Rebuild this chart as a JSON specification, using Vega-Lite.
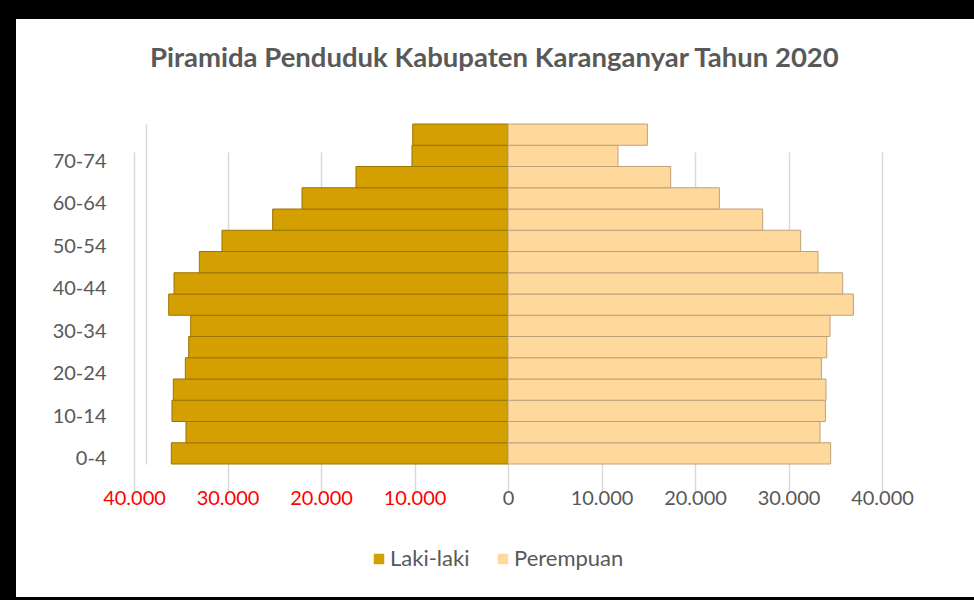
{
  "$schema": "https://vega.github.io/schema/vega-lite/v6.json",
  "width": 958,
  "height": 578,
  "autosize": {"type": "none"},
  "padding": {"left": 16, "top": 19, "right": 0, "bottom": 3},
  "background": "#000000",
  "config": {"view": {"fill": "#FFFFFF", "stroke": null}, "font": "Lato"},
  "title": {
    "text": "Piramida Penduduk Kabupaten Karanganyar Tahun 2020",
    "fontSize": 27.5,
    "fontWeight": "bold",
    "color": "#595959",
    "font": "Lato",
    "anchor": "start",
    "frame": "group",
    "dx": 134,
    "offset": -53
  },
  "data": {
    "values": [
      {"umur": "0-4", "laki_laki": 36010, "perempuan": 34510},
      {"umur": "5-9", "laki_laki": 34440, "perempuan": 33370},
      {"umur": "10-14", "laki_laki": 35940, "perempuan": 33950},
      {"umur": "15-19", "laki_laki": 35800, "perempuan": 34010},
      {"umur": "20-24", "laki_laki": 34510, "perempuan": 33520},
      {"umur": "25-29", "laki_laki": 34150, "perempuan": 34090},
      {"umur": "30-34", "laki_laki": 33940, "perempuan": 34440},
      {"umur": "35-39", "laki_laki": 36290, "perempuan": 36940},
      {"umur": "40-44", "laki_laki": 35720, "perempuan": 35800},
      {"umur": "45-49", "laki_laki": 33010, "perempuan": 33160},
      {"umur": "50-54", "laki_laki": 30590, "perempuan": 31300},
      {"umur": "55-59", "laki_laki": 25170, "perempuan": 27240},
      {"umur": "60-64", "laki_laki": 22030, "perempuan": 22610},
      {"umur": "65-69", "laki_laki": 16260, "perempuan": 17400},
      {"umur": "70-74", "laki_laki": 10270, "perempuan": 11760},
      {"umur": "75+", "laki_laki": 10190, "perempuan": 14910}
    ]
  },
  "encoding": {
    "y": {
      "field": "umur",
      "type": "nominal",
      "sort": null,
      "scale": {
        "domain": ["75+", "70-74", "65-69", "60-64", "55-59", "50-54", "45-49", "40-44", "35-39", "30-34", "25-29", "20-24", "15-19", "10-14", "5-9", "0-4"],
        "range": [105, 445],
        "paddingInner": 0,
        "paddingOuter": 0
      },
      "axis": {
        "orient": "left",
        "offset": -130,
        "title": null,
        "grid": false,
        "domain": true,
        "domainColor": "#D9D9D9",
        "domainWidth": 1.5,
        "ticks": false,
        "tickSize": 0,
        "labelPadding": 40,
        "labelOffset": 6,
        "labelFont": "Lato",
        "labelFontSize": 20,
        "labelColor": "#595959",
        "labelOverlap": false,
        "values": ["0-4", "10-14", "20-24", "30-34", "40-44", "50-54", "60-64", "70-74"]
      }
    }
  },
  "layer": [
    {
      "mark": {"type": "bar", "stroke": "#9C7500", "strokeWidth": 1},
      "encoding": {
        "x": {
          "field": "laki_laki",
          "type": "quantitative",
          "scale": {"domain": [0, 40000], "range": [118, 492], "reverse": true, "nice": false, "zero": true},
          "axis": {
            "orient": "bottom",
            "offset": -129,
            "title": null,
            "values": [10000, 20000, 30000, 40000],
            "labelExpr": "replace(format(datum.value, ','), ',', '.')",
            "labelColor": "#FF0000",
            "labelFont": "Lato",
            "labelFontSize": 20,
            "labelPadding": 20,
            "labelOverlap": false,
            "labelFlush": false,
            "labelBound": false,
            "domain": false,
            "ticks": false,
            "tickSize": 0,
            "grid": true,
            "gridColor": "#D9D9D9",
            "gridWidth": 1.5
          }
        },
        "color": {
          "datum": "Laki-laki",
          "type": "nominal",
          "scale": {"domain": ["Laki-laki", "Perempuan"], "range": ["#D49F00", "#FFD89C"]},
          "legend": {
            "orient": "none",
            "legendX": 352,
            "legendY": 529,
            "direction": "horizontal",
            "title": null,
            "symbolType": "square",
            "symbolSize": 110,
            "symbolStrokeWidth": 0,
            "labelFont": "Lato",
            "labelFontSize": 22,
            "labelColor": "#595959",
            "labelOffset": 0,
            "columnPadding": 22,
            "padding": 0
          }
        }
      }
    },
    {
      "mark": {"type": "bar", "stroke": "#BFA27A", "strokeWidth": 1},
      "encoding": {
        "x": {
          "field": "perempuan",
          "type": "quantitative",
          "scale": {"domain": [0, 40000], "range": [492, 866], "nice": false, "zero": true},
          "axis": {
            "orient": "bottom",
            "offset": -129,
            "title": null,
            "values": [0, 10000, 20000, 30000, 40000],
            "labelExpr": "replace(format(datum.value, ','), ',', '.')",
            "labelColor": "#595959",
            "labelFont": "Lato",
            "labelFontSize": 20,
            "labelPadding": 20,
            "labelOverlap": false,
            "labelFlush": false,
            "labelBound": false,
            "domain": false,
            "ticks": false,
            "tickSize": 0,
            "grid": true,
            "gridColor": "#D9D9D9",
            "gridWidth": 1.5
          }
        },
        "color": {"datum": "Perempuan", "type": "nominal"}
      }
    }
  ],
  "resolve": {"scale": {"x": "independent"}, "axis": {"x": "independent"}}
}
